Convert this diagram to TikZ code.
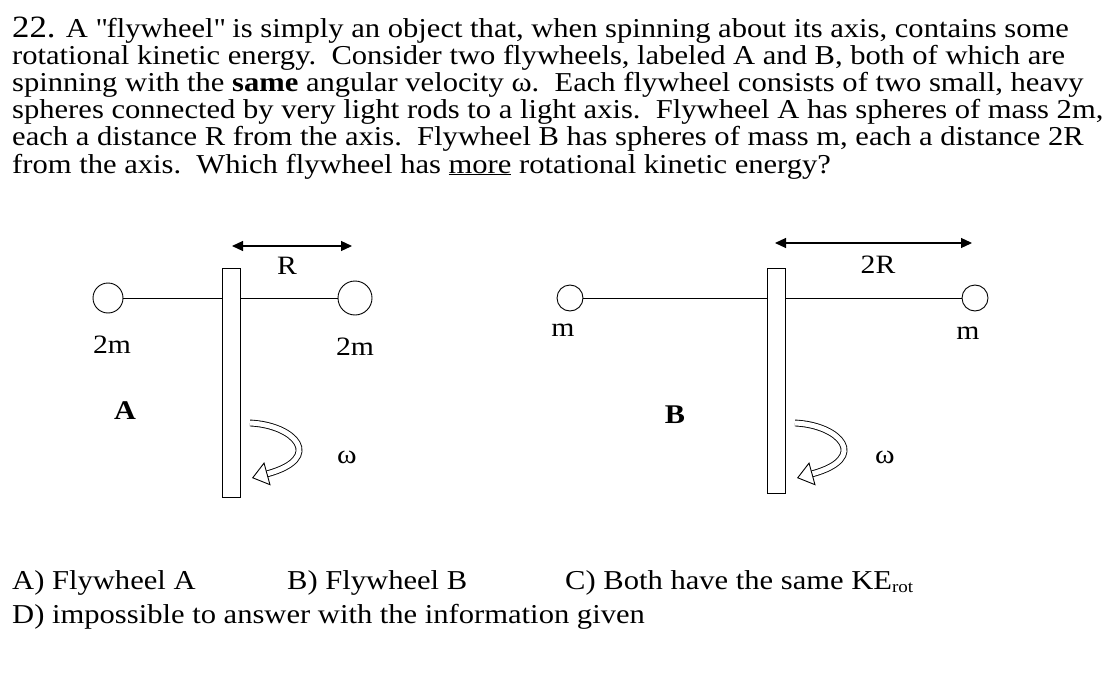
\documentclass[tikz,border=0pt]{standalone}
\usepackage{fontspec}
\setmainfont[FakeStretch=1.12]{Liberation Serif}
\usetikzlibrary{arrows.meta}
\begin{document}
\begin{tikzpicture}[x=1pt,y=-1pt,
  txt/.style={anchor=base west,inner sep=0pt,font=\fontsize{27.3}{27}\selectfont},
  lab/.style={inner sep=0pt,font=\fontsize{26.5}{27}\selectfont},
  axisbar/.style={draw,line width=1.2pt,fill=white},
  ball/.style={draw,circle,line width=0.9pt,fill=white,inner sep=0pt},
  dim/.style={line width=1.2pt,{Triangle[length=11pt,width=10pt]}-{Triangle[length=11pt,width=10pt]}},
  rot/.style={double,double distance=5pt,line width=0.9pt,-{Triangle[open,length=16pt,width=24pt,line width=0.9pt]}}]
\useasboundingbox (0,0) rectangle (1116,682);
\node[txt] (l1) at (12,38) {\fontsize{31}{27}\selectfont 22.\fontsize{27.3}{27}\selectfont{} A \textquotedbl flywheel\textquotedbl{} is simply an object that, when spinning about its axis, contains some};
\node[txt] (l2) at (12,65) {rotational kinetic energy.\ \ Consider two flywheels, labeled A and B, both of which are};
\node[txt] (l3) at (12,92) {spinning with the \textbf{same} angular velocity ω.\ \ Each flywheel consists of two small, heavy};
\node[txt] (l4) at (12,119) {spheres connected by very light rods to a light axis.\ \ Flywheel A has spheres of mass 2m,};
\node[txt] (l5) at (12,146) {each a distance R from the axis.\ \ Flywheel B has spheres of mass m, each a distance 2R};
\node[txt] (l6) at (12,173) {from the axis.\ \ Which flywheel has \underline{more} rotational kinetic energy?};
% Flywheel A
\node[ball,minimum size=30pt] (a1) at (108,298) {};
\node[ball,minimum size=34pt] (a2) at (355,298) {};
\draw[line width=0.9pt] (a1) -- (a2);
\node[axisbar,minimum width=18pt,minimum height=229pt,anchor=north west] (aa) at (222,268) {};
\coordinate (ra1) at (232,246); \coordinate (ra2) at (352,246);
\draw[dim] (ra1) -- (ra2);
\node[lab] (R) at (287,266) {R};
\node[lab] (m1) at (112,345) {2m};
\node[lab] (m2) at (355,347) {2m};
\node[lab,font=\fontsize{27}{27}\selectfont\bfseries] (A) at (125,411) {A};
\node[lab] (wa) at (347,457) {ω};
\coordinate (sa) at (250,423); \coordinate (ea) at (252,478);
\draw[rot] (sa) .. controls (295,425) and (325,458) .. (ea);
% Flywheel B
\node[ball,minimum size=26pt] (b1) at (570,298) {};
\node[ball,minimum size=26pt] (b2) at (975,298) {};
\draw[line width=0.9pt] (b1) -- (b2);
\node[axisbar,minimum width=18pt,minimum height=225pt,anchor=north west] (bb) at (767,268) {};
\coordinate (rb1) at (775,243); \coordinate (rb2) at (972,243);
\draw[dim] (rb1) -- (rb2);
\node[lab] (R2) at (878,265) {2R};
\node[lab] (m3) at (563,330) {m};
\node[lab] (m4) at (968,333) {m};
\node[lab,font=\fontsize{27}{27}\selectfont\bfseries] (B) at (675,415) {B};
\node[lab] (wb) at (885,457) {ω};
\coordinate (sb) at (795,423); \coordinate (eb) at (797,478);
\draw[rot] (sb) .. controls (840,425) and (870,458) .. (eb);
% answers
\node[txt] (o1) at (12,589) {A) Flywheel A};
\node[txt] (o2) at (287,589) {B) Flywheel B};
\node[txt] (o3) at (565,589) {C) Both have the same KE\textsubscript{\fontsize{17}{17}\selectfont rot}};
\node[txt] (o4) at (12,623) {D) impossible to answer with the information given};
\end{tikzpicture}
\end{document}
